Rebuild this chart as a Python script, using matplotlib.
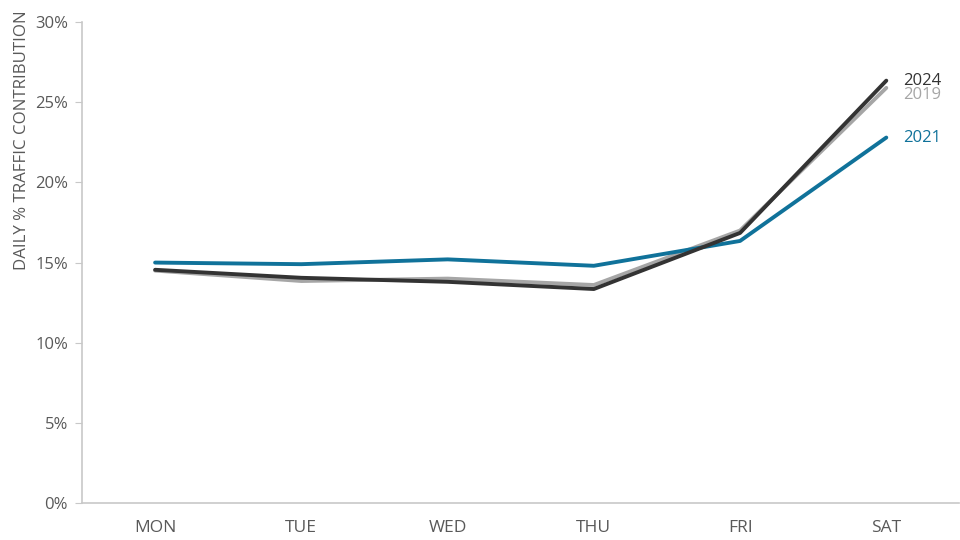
import matplotlib.pyplot as plt
from matplotlib.ticker import PercentFormatter

plt.rcParams['font.family'] = ['Open Sans', 'DejaVu Sans']

days = ['MON', 'TUE', 'WED', 'THU', 'FRI', 'SAT']
y2019 = [14.5, 13.85, 14.0, 13.6, 17.0, 25.9]
y2021 = [15.0, 14.9, 15.2, 14.8, 16.35, 22.8]
y2024 = [14.55, 14.05, 13.8, 13.35, 16.85, 26.35]

grey = '#a6a6a6'
blue = '#10729a'
dark = '#333333'
text_col = '#595959'

fig = plt.figure(figsize=(9.6, 5.4), dpi=100)
ax = fig.add_axes([0.0854, 0.0685, 0.914, 0.8905])

x = list(range(len(days)))
ax.plot(x, y2019, color=grey, lw=2.8, solid_capstyle='round')
ax.plot(x, y2021, color=blue, lw=2.8, solid_capstyle='round')
ax.plot(x, y2024, color=dark, lw=2.8, solid_capstyle='round')

# series labels at the right end
ax.annotate('2024', (x[-1], y2024[-1]), xytext=(12, 0), textcoords='offset points',
            va='center', color=dark, fontsize=12, annotation_clip=False)
ax.annotate('2019', (x[-1], y2019[-1]), xytext=(12, -5), textcoords='offset points',
            va='center', color=grey, fontsize=12, annotation_clip=False)
ax.annotate('2021', (x[-1], y2021[-1]), xytext=(12, 0), textcoords='offset points',
            va='center', color=blue, fontsize=12, annotation_clip=False)

ax.set_xlim(-0.5, 5.5)
ax.set_ylim(0, 30)
ax.set_xticks(x)
ax.set_xticklabels(days)
ax.set_yticks(range(0, 31, 5))
ax.yaxis.set_major_formatter(PercentFormatter(decimals=0))

for s in ['top', 'right']:
    ax.spines[s].set_visible(False)
for s in ['left', 'bottom']:
    ax.spines[s].set_color('#c8c8c8')
    ax.spines[s].set_linewidth(1.2)

ax.tick_params(axis='x', length=0, pad=12, labelsize=12.5, labelcolor=text_col)
ax.tick_params(axis='y', length=5, color='#c8c8c8', pad=5, labelsize=12, labelcolor=text_col)
ax.set_ylabel('DAILY % TRAFFIC CONTRIBUTION', color=text_col, fontsize=12.2)
ax.yaxis.set_label_coords(-0.059, 0.755)

fig.savefig('out.png', dpi=100)
